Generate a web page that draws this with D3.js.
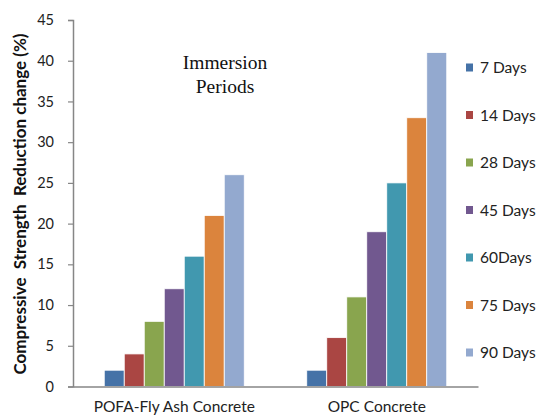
<!DOCTYPE html>
<html>
<head>
<meta charset="utf-8">
<script src="https://cdn.jsdelivr.net/npm/d3@7"></script>
<style>
  html, body { margin: 0; padding: 0; background: #fff; }
  svg { display: block; }
</style>
</head>
<body>
<svg id="chart" width="539" height="417"></svg>
<script>
// Compressive strength reduction after immersion, by concrete type
const categories = ["POFA-Fly Ash Concrete", "OPC Concrete"];
const seriesNames = ["7 Days", "14 Days", "28 Days", "45 Days", "60Days", "75 Days", "90 Days"];
const seriesColors = ["#4572a7", "#aa4643", "#89a54e", "#71588f", "#4198af", "#db843d", "#93a9cf"];
const pofaValues = [2, 4, 8, 12, 16, 21, 26];
const opcValues = [2, 6, 11, 19, 25, 33, 41];
const yTicks = [0, 5, 10, 15, 20, 25, 30, 35, 40, 45];

const valuesByCategory = [pofaValues, opcValues];

const svg = d3.select("#chart");
const font = "Lato, 'Open Sans', 'Liberation Sans', sans-serif";
const axisColor = "#868686";

const plot = { left: 73, right: 478, top: 20, bottom: 386.5 };

const y = d3.scaleLinear().domain([0, 45]).range([plot.bottom, plot.top]);
const x0 = d3.scaleBand().domain(categories).range([plot.left, plot.right]).paddingInner(0).paddingOuter(0);
const groupWidth = 140;
const x1 = d3.scaleBand().domain(seriesNames).range([0, groupWidth]).padding(0);

// bars
categories.forEach((cat, ci) => {
  const gx = x0(cat) + (x0.bandwidth() - groupWidth) / 2;
  svg.append("g")
    .selectAll("rect")
    .data(valuesByCategory[ci])
    .join("rect")
    .attr("x", (d, i) => gx + x1(seriesNames[i]))
    .attr("y", d => y(d))
    .attr("width", x1.bandwidth())
    .attr("height", d => y(0) - y(d))
    .attr("fill", (d, i) => seriesColors[i])
    .attr("stroke", "#ffffff")
    .attr("stroke-width", 0.8);
});

// y axis
const yAxis = svg.append("g")
  .attr("transform", `translate(${plot.left},0)`)
  .call(d3.axisLeft(y).tickValues(yTicks).tickSize(5).tickPadding(14));
yAxis.select(".domain").attr("stroke", axisColor).attr("stroke-width", 1.5);
yAxis.selectAll(".tick line").attr("stroke", axisColor).attr("stroke-width", 1.2);
yAxis.selectAll(".tick text")
  .attr("fill", "#222").attr("font-family", font).attr("font-size", 14.5);

// x axis
const xAxis = svg.append("g")
  .attr("transform", `translate(0,${plot.bottom})`)
  .call(d3.axisBottom(x0).tickSize(0).tickPadding(14));
xAxis.select(".domain").attr("stroke", axisColor).attr("stroke-width", 1.5);
xAxis.selectAll(".tick text")
  .attr("fill", "#222").attr("font-family", font).attr("font-size", 15.5);

// y axis title
svg.append("text")
  .attr("transform", `translate(26,204) rotate(-90)`)
  .attr("text-anchor", "middle")
  .attr("font-family", font)
  .attr("font-weight", "bold")
  .attr("font-size", 17)
  .attr("fill", "#111")
  .attr("xml:space", "preserve")
  .style("white-space", "pre")
  .text("Compressive  Strength  Reduction change (%)");

// inner annotation
const note = svg.append("text")
  .attr("text-anchor", "middle")
  .attr("font-family", "'Liberation Serif', 'DejaVu Serif', serif")
  .attr("font-size", 19.5)
  .attr("fill", "#111");
note.append("tspan").attr("x", 225).attr("y", 69).text("Immersion");
note.append("tspan").attr("x", 225).attr("y", 93).text("Periods");

// legend
const legend = svg.append("g")
  .selectAll("g")
  .data(seriesNames)
  .join("g")
  .attr("transform", (d, i) => `translate(466,${68 + i * 47.5})`);
legend.append("rect")
  .attr("x", 0).attr("y", -4.5)
  .attr("width", 7).attr("height", 8)
  .attr("fill", (d, i) => seriesColors[i]);
legend.append("text")
  .attr("x", 14).attr("y", 5)
  .attr("font-family", font)
  .attr("font-size", 15.5)
  .attr("fill", "#222")
  .text(d => d);
</script>
</body>
</html>
